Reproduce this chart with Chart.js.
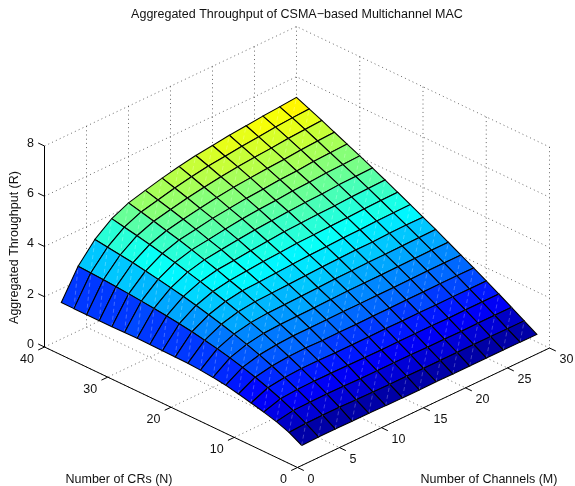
<!DOCTYPE html>
<html><head><meta charset="utf-8">
<style>html,body{margin:0;padding:0;background:#fff}canvas{display:block}</style>
<script src="https://cdn.jsdelivr.net/npm/chart.js@4"></script></head>
<body><canvas id="c" width="575" height="486"></canvas>
<script>
const titleText = 'Aggregated Throughput of CSMA\u2212based Multichannel MAC';
const xLabel = 'Number of Channels (M)';
const yLabel = 'Number of CRs (N)';
const zLabel = 'Aggregated Throughput (R)';
const channels = [2,4,6,8,10,12,14,16,18,20,22,24,26,28,30];
const radios = [2,4,6,8,10,12,14,16,18,20,22,24,26,28,30,32,34,36,38,40];
const mTicks = [0,5,10,15,20,25,30];
const nTicks = [0,10,20,30,40];
const zTicks = [0,2,4,6,8];
const rM2  = [.32,.60,.79,.93,1.05,1.17,1.28,1.35,1.40,1.43,1.44,1.45,1.46,1.47,1.46,1.45,1.45,1.45,1.45,1.45];
const rM4  = [.34,.64,.91,1.14,1.34,1.52,1.67,1.81,1.93,2.03,2.13,2.21,2.28,2.34,2.39,2.44,2.48,2.52,2.55,2.58];
const rM6  = [.34,.65,.93,1.19,1.43,1.65,1.85,2.03,2.20,2.35,2.49,2.62,2.74,2.84,2.94,3.03,3.12,3.19,3.26,3.33];
const rM8  = [.33,.65,.94,1.21,1.47,1.71,1.93,2.15,2.34,2.53,2.70,2.86,3.01,3.15,3.29,3.41,3.53,3.64,3.74,3.84];
const rM10 = [.33,.63,.93,1.21,1.47,1.73,1.97,2.19,2.40,2.61,2.81,2.98,3.16,3.32,3.48,3.63,3.76,3.90,4.03,4.15];
const rM12 = [.32,.62,.91,1.20,1.46,1.71,1.97,2.20,2.42,2.64,2.84,3.04,3.22,3.41,3.57,3.74,3.90,4.05,4.19,4.33];
const rM14 = [.31,.61,.91,1.19,1.46,1.72,1.98,2.21,2.44,2.67,2.88,3.10,3.29,3.49,3.67,3.86,4.02,4.19,4.35,4.50];
const rM16 = [.31,.62,.91,1.18,1.46,1.72,1.99,2.23,2.46,2.70,2.92,3.14,3.35,3.56,3.76,3.94,4.13,4.30,4.48,4.65];
const rM18 = [.32,.61,.91,1.19,1.47,1.73,1.99,2.25,2.49,2.73,2.96,3.19,3.41,3.61,3.82,4.02,4.22,4.40,4.59,4.77];
const rM20 = [.31,.61,.90,1.19,1.46,1.73,2.00,2.25,2.50,2.75,2.98,3.21,3.44,3.66,3.86,4.07,4.28,4.48,4.66,4.85];
const rM22 = [.31,.61,.90,1.19,1.47,1.74,2.00,2.26,2.52,2.77,3.01,3.24,3.47,3.70,3.92,4.13,4.34,4.54,4.74,4.94];
const rM24 = [.31,.61,.89,1.18,1.46,1.74,2.01,2.27,2.52,2.77,3.02,3.26,3.49,3.72,3.95,4.16,4.38,4.59,4.80,5.00];
const rM26 = [.31,.61,.90,1.19,1.47,1.75,2.02,2.28,2.54,2.80,3.05,3.29,3.53,3.77,4.00,4.22,4.44,4.66,4.87,5.07];
const rM28 = [.31,.60,.90,1.19,1.47,1.75,2.02,2.29,2.55,2.81,3.06,3.31,3.55,3.79,4.02,4.25,4.48,4.70,4.92,5.12];
const rM30 = [.30,.60,.90,1.19,1.47,1.75,2.02,2.29,2.56,2.81,3.07,3.32,3.57,3.81,4.05,4.28,4.51,4.74,4.96,5.18];
const rows = [rM2,rM4,rM6,rM8,rM10,rM12,rM14,rM16,rM18,rM20,rM22,rM24,rM26,rM28,rM30];

// fixed 3-D view: orthographic projection of the box onto the page
const view = {ox:297.5, oy:467.5, mx:252/30, my:-119.5/30, nx:-253/40, ny:-120.5/40, z:-201/8, cmax:7.8};
const proj = (m,n,z)=>({x:view.ox+m*view.mx+n*view.nx, y:view.oy+m*view.my+n*view.ny+z*view.z});
const MMAX=30, NMAX=40, ZMAX=8;

function jet(v){
  const idx=Math.min(63,Math.max(0,Math.floor(v*64))); const t=(idx+.5)/64;
  const c=a=>Math.round(255*Math.max(0,Math.min(1,a)));
  return `rgb(${c(Math.min(4*t-1.5,-4*t+4.5))},${c(Math.min(4*t-.5,-4*t+3.5))},${c(Math.min(4*t+.5,-4*t+2.5))})`;
}
const sets=[];
const lineSet=(pts,color,width,dash)=>({type:'scatter',showLine:true,data:pts,borderColor:color,borderWidth:width,borderDash:dash||[],pointRadius:0,fill:false,tension:0});
const GRID='#444', DOT=[1,3.2];
// back walls and floor grid
for(const z of zTicks) sets.push(lineSet([proj(0,NMAX,z),proj(MMAX,NMAX,z),proj(MMAX,0,z)],GRID,.8,DOT));
for(const m of mTicks){ if(m>0) sets.push(lineSet([proj(m,NMAX,ZMAX),proj(m,NMAX,0)],GRID,.8,DOT)); if(m<MMAX) sets.push(lineSet([proj(m,NMAX,0),proj(m,0,0)],GRID,.8,DOT)); }
for(const n of nTicks){ if(n<NMAX){ sets.push(lineSet([proj(MMAX,n,ZMAX),proj(MMAX,n,0)],GRID,.8,DOT)); sets.push(lineSet([proj(MMAX,n,0),proj(0,n,0)],GRID,.8,DOT)); } }
// surface cells, far to near
for(let i=channels.length-2;i>=0;i--) for(let j=radios.length-2;j>=0;j--){
  const a=proj(channels[i],radios[j],rows[i][j]), b=proj(channels[i+1],radios[j],rows[i+1][j]),
        c=proj(channels[i+1],radios[j+1],rows[i+1][j+1]), d=proj(channels[i],radios[j+1],rows[i][j+1]);
  sets.push({type:'scatter',showLine:true,data:[a,b,c,d,a],borderColor:'#000',borderWidth:1.1,pointRadius:0,tension:0,
    fill:'shape',backgroundColor:jet(rows[i][j]/view.cmax)});
  sets.push(lineSet([a,c],'rgba(255,255,255,.32)',.8,[4,3]));
}
// solid axes and ticks
const AX='#000';
sets.push(lineSet([proj(0,NMAX,0),proj(0,NMAX,ZMAX)],AX,1));
sets.push(lineSet([proj(0,NMAX,0),proj(0,0,0),proj(MMAX,0,0)],AX,1));
for(const z of zTicks) sets.push(lineSet([proj(0,NMAX,z),proj(0,NMAX+1,z)],AX,1));
for(const n of nTicks) sets.push(lineSet([proj(0,n,0),proj(-.75,n,0)],AX,1));
for(const m of mTicks) sets.push(lineSet([proj(m,0,0),proj(m,-1,0)],AX,1));
sets.reverse(); // Chart.js paints dataset 0 last

const labels={id:'labels3d',afterDraw(ch){
  const {ctx,scales:{x,y}}=ch; ctx.save(); ctx.fillStyle='#111'; ctx.textBaseline='middle';
  const px=p=>[x.getPixelForValue(p.x),y.getPixelForValue(p.y)];
  ctx.font='12.5px "Liberation Sans"';
  ctx.textAlign='right';
  for(const z of zTicks){const [a,b]=px(proj(0,NMAX,z)); ctx.fillText(String(z),a-10.5,b-2.5);}
  for(const n of nTicks){const [a,b]=px(proj(0,n,0)); ctx.fillText(String(n),a-10.5,b+12.5);}
  ctx.textAlign='left';
  for(const m of mTicks){const [a,b]=px(proj(m,0,0)); ctx.fillText(String(m),a+10,b+12);}
  ctx.textAlign='center';
  ctx.fillText(titleText,297,15);
  ctx.fillText(yLabel,119,479.5); ctx.fillText(xLabel,489,479.5);
  ctx.translate(15,247.5); ctx.rotate(-Math.PI/2); ctx.fillText(zLabel,0,0);
  ctx.restore();
}};
new Chart(document.getElementById('c'),{
  data:{datasets:sets},
  options:{responsive:false,animation:false,devicePixelRatio:1,parsing:false,normalized:true,
    layout:{padding:0},
    plugins:{legend:{display:false},tooltip:{enabled:false},title:{display:false}},
    scales:{x:{type:'linear',min:0,max:575,display:false},y:{type:'linear',min:0,max:486,reverse:true,display:false}}},
  plugins:[labels]
});
</script></body></html>
